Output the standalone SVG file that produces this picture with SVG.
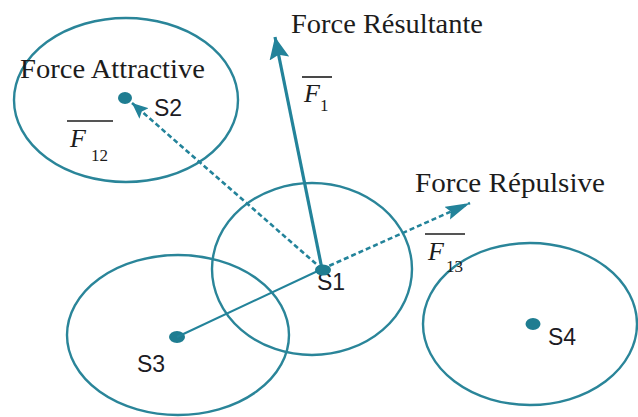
<svg xmlns="http://www.w3.org/2000/svg" width="638" height="417" viewBox="0 0 638 417">
<style>
.zone{fill:none;stroke:#2a8599;stroke-width:2.4}
.dot{fill:#1f7d91}
.vec{stroke:#23839a;fill:none}
.lbl{font-family:"Liberation Sans",Arial,sans-serif;font-size:23px;fill:#1c1c24}
.ser{font-family:"Liberation Serif","Times New Roman",serif;font-size:27px;fill:#1c1c1c}
.fi{font-family:"Liberation Serif","Times New Roman",serif;font-style:italic;font-size:26px;fill:#1c1c1c}
.sub{font-family:"Liberation Serif","Times New Roman",serif;font-size:17px;fill:#1c1c1c}
.ov{stroke:#1c1c1c;stroke-width:1.6}
</style>
<defs>
<marker id="ahR" markerUnits="userSpaceOnUse" markerWidth="24" markerHeight="22" refX="22" refY="10" orient="auto">
<path d="M0,0 L22,10 L0,20 L4,10 z" fill="#23839a"/>
</marker>
<marker id="ahA" markerUnits="userSpaceOnUse" markerWidth="18" markerHeight="14" refX="16" refY="7" orient="auto">
<path d="M0,0 L16,7 L0,14 L3,7 z" fill="#23839a"/>
</marker>
<marker id="ahP" markerUnits="userSpaceOnUse" markerWidth="26" markerHeight="16" refX="25" refY="7" orient="auto">
<path d="M0,0 L25,7 L0,14 L4,7 z" fill="#23839a"/>
</marker>
</defs>
<g id="S2">
<ellipse class="zone" cx="126" cy="100" rx="112" ry="82"/>
<ellipse class="dot" cx="125" cy="98" rx="7" ry="6"/>
<text class="lbl" x="154" y="116">S2</text>
</g>
<g id="S1">
<ellipse class="zone" cx="312" cy="269" rx="100" ry="86"/>
<text class="lbl" x="317" y="290">S1</text>
</g>
<g id="S3">
<ellipse class="zone" cx="178" cy="335" rx="111" ry="80"/>
<ellipse class="dot" cx="177" cy="337" rx="8" ry="6"/>
<text class="lbl" x="137" y="372">S3</text>
</g>
<g id="S4">
<ellipse class="zone" cx="530" cy="324" rx="107" ry="81"/>
<ellipse class="dot" cx="533" cy="324" rx="7.5" ry="6"/>
<text class="lbl" x="548" y="345">S4</text>
</g>
<g id="connectors">
<line class="vec" x1="177" y1="337" x2="322" y2="269" stroke-width="2"/>
<line class="vec" x1="322" y1="269" x2="132" y2="103" stroke-width="2.6" stroke-dasharray="5,3" marker-end="url(#ahA)"/>
<line class="vec" x1="322" y1="269" x2="470" y2="203" stroke-width="2.6" stroke-dasharray="5,3" marker-end="url(#ahP)"/>
<line class="vec" x1="322" y1="269" x2="275" y2="37" stroke-width="3.2" marker-end="url(#ahR)"/>
</g>
<ellipse id="S1dot" class="dot" cx="323" cy="270" rx="8" ry="5.5"/>
<g id="labels">
<text class="ser" x="20" y="78" textLength="185" lengthAdjust="spacingAndGlyphs">Force Attractive</text>
<text class="ser" x="291" y="33" textLength="192" lengthAdjust="spacingAndGlyphs">Force Résultante</text>
<text class="ser" x="415" y="192" textLength="190" lengthAdjust="spacingAndGlyphs">Force Répulsive</text>
<line class="ov" x1="302" y1="77" x2="332" y2="77"/>
<text class="fi" x="304" y="102">F</text>
<text class="sub" x="320" y="111">1</text>
<line class="ov" x1="67" y1="121" x2="113" y2="121"/>
<text class="fi" x="70" y="147">F</text>
<text class="sub" x="91" y="161">12</text>
<line class="ov" x1="425" y1="234" x2="465" y2="234"/>
<text class="fi" x="428" y="260">F</text>
<text class="sub" x="446" y="272">13</text>
</g>
</svg>
